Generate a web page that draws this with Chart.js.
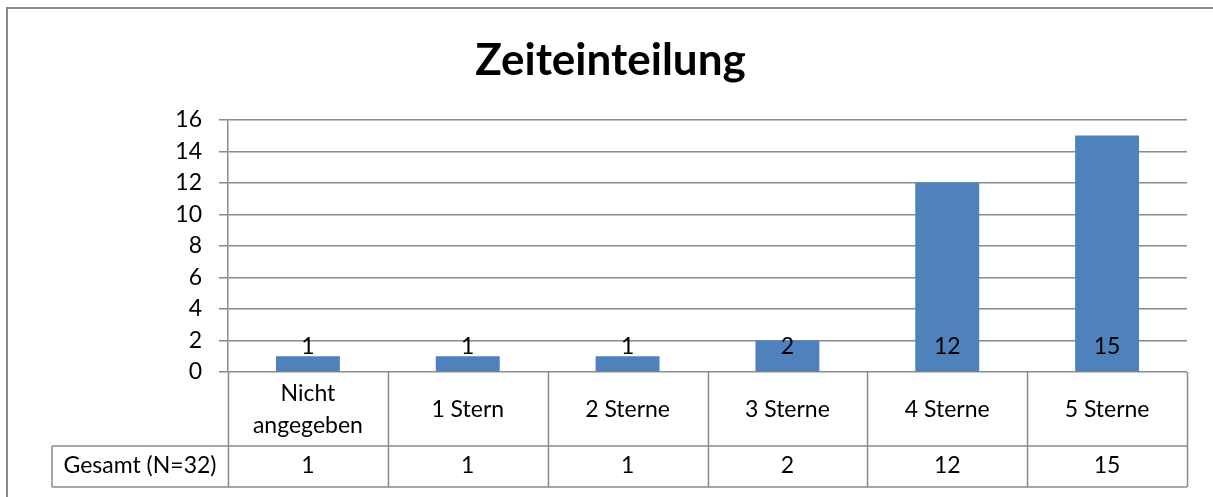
<!DOCTYPE html>
<html>
<head>
<meta charset="utf-8">
<script src="https://cdn.jsdelivr.net/npm/chart.js@4/dist/chart.umd.min.js"></script>
<style>
  html, body { margin: 0; padding: 0; background: #fff; }
  #wrap { width: 1213px; height: 497px; }
</style>
</head>
<body>
<div id="wrap"><canvas id="chart" width="1213" height="497"></canvas></div>
<script>
const categories = [['Nicht', 'angegeben'], '1 Stern', '2 Sterne', '3 Sterne', '4 Sterne', '5 Sterne'];
const counts = [1, 1, 1, 2, 12, 15];
const tableRowLabel = 'Gesamt (N=32)';
const yTicks = [0, 2, 4, 6, 8, 10, 12, 14, 16];

const FONT = 'Lato, "Open Sans", sans-serif';
const GREY = '#8a8a8a';

// frame, value labels and the data table under the plot
const tablePlugin = {
  id: 'dataTable',
  beforeDraw(chart) {
    const ctx = chart.ctx;
    ctx.save();
    ctx.strokeStyle = GREY;
    ctx.lineWidth = 2;
    ctx.beginPath();
    ctx.moveTo(7, chart.height);
    ctx.lineTo(7, 8);
    ctx.lineTo(chart.width, 8);
    ctx.stroke();
    ctx.restore();
  },
  afterDatasetsDraw(chart) {
    const ctx = chart.ctx;
    const y = chart.scales.y;
    const meta = chart.getDatasetMeta(0);
    ctx.save();
    ctx.fillStyle = '#000';
    ctx.font = '23px ' + FONT;
    ctx.textAlign = 'center';
    ctx.textBaseline = 'alphabetic';
    meta.data.forEach((bar, i) => {
      ctx.fillText(String(counts[i]), bar.x, y.getPixelForValue(0) - 18);
    });
    ctx.restore();
  },
  afterDraw(chart) {
    const ctx = chart.ctx;
    const x = chart.scales.x;
    const area = chart.chartArea;
    const top = area.bottom;
    const mid = top + 74;
    const bottom = top + 115;
    const band = (area.right - area.left) / categories.length;
    const leftCell = 52;

    ctx.save();
    ctx.strokeStyle = GREY;
    ctx.lineWidth = 1.5;
    ctx.beginPath();
    for (let i = 0; i <= categories.length; i++) {
      const px = Math.round(area.left + band * i) + 0.5;
      ctx.moveTo(px, top);
      ctx.lineTo(px, bottom);
    }
    ctx.moveTo(leftCell, mid);
    ctx.lineTo(area.right, mid);
    ctx.moveTo(leftCell, bottom);
    ctx.lineTo(area.right, bottom);
    ctx.moveTo(leftCell, mid);
    ctx.lineTo(leftCell, bottom);
    ctx.stroke();

    ctx.fillStyle = '#000';
    ctx.font = '23px ' + FONT;
    ctx.textAlign = 'center';
    ctx.textBaseline = 'alphabetic';
    categories.forEach((c, i) => {
      const cx = x.getPixelForValue(i);
      if (Array.isArray(c)) {
        ctx.fillText(c[0], cx, top + 29);
        ctx.fillText(c[1], cx, top + 61);
      } else {
        ctx.fillText(c, cx, top + 45);
      }
      ctx.fillText(String(counts[i]), cx, mid + 27);
    });
    ctx.fillText(tableRowLabel, (leftCell + area.left) / 2, mid + 27);
    ctx.restore();
  }
};

new Chart(document.getElementById('chart'), {
  type: 'bar',
  data: {
    labels: categories,
    datasets: [{
      data: counts,
      backgroundColor: '#4F81BD',
      borderWidth: 0,
      barPercentage: 0.4,
      categoryPercentage: 1.0
    }]
  },
  options: {
    responsive: false,
    animation: false,
    layout: { padding: { left: 34, top: 0, right: 26, bottom: 0 } },
    plugins: {
      legend: { display: false },
      tooltip: { enabled: false },
      title: {
        display: true,
        text: 'Zeiteinteilung',
        color: '#000',
        font: { family: FONT, size: 44, weight: 'bold', lineHeight: 1.2 },
        padding: { top: 34, bottom: 33 }
      }
    },
    scales: {
      x: {
        ticks: { display: false },
        grid: { display: false, drawTicks: false },
        border: { display: false },
        afterFit(scale) { scale.height = 125; }
      },
      y: {
        min: 0,
        max: 16,
        afterBuildTicks(scale) { scale.ticks = yTicks.map(v => ({ value: v })); },
        ticks: { color: '#000', padding: 17, font: { family: FONT, size: 23 } },
        grid: { color: GREY, lineWidth: 1.5, tickLength: 9 },
        border: { color: GREY, width: 1.5 },
        afterFit(scale) { scale.width = 194; }
      }
    }
  },
  plugins: [tablePlugin]
});
</script>
</body>
</html>
